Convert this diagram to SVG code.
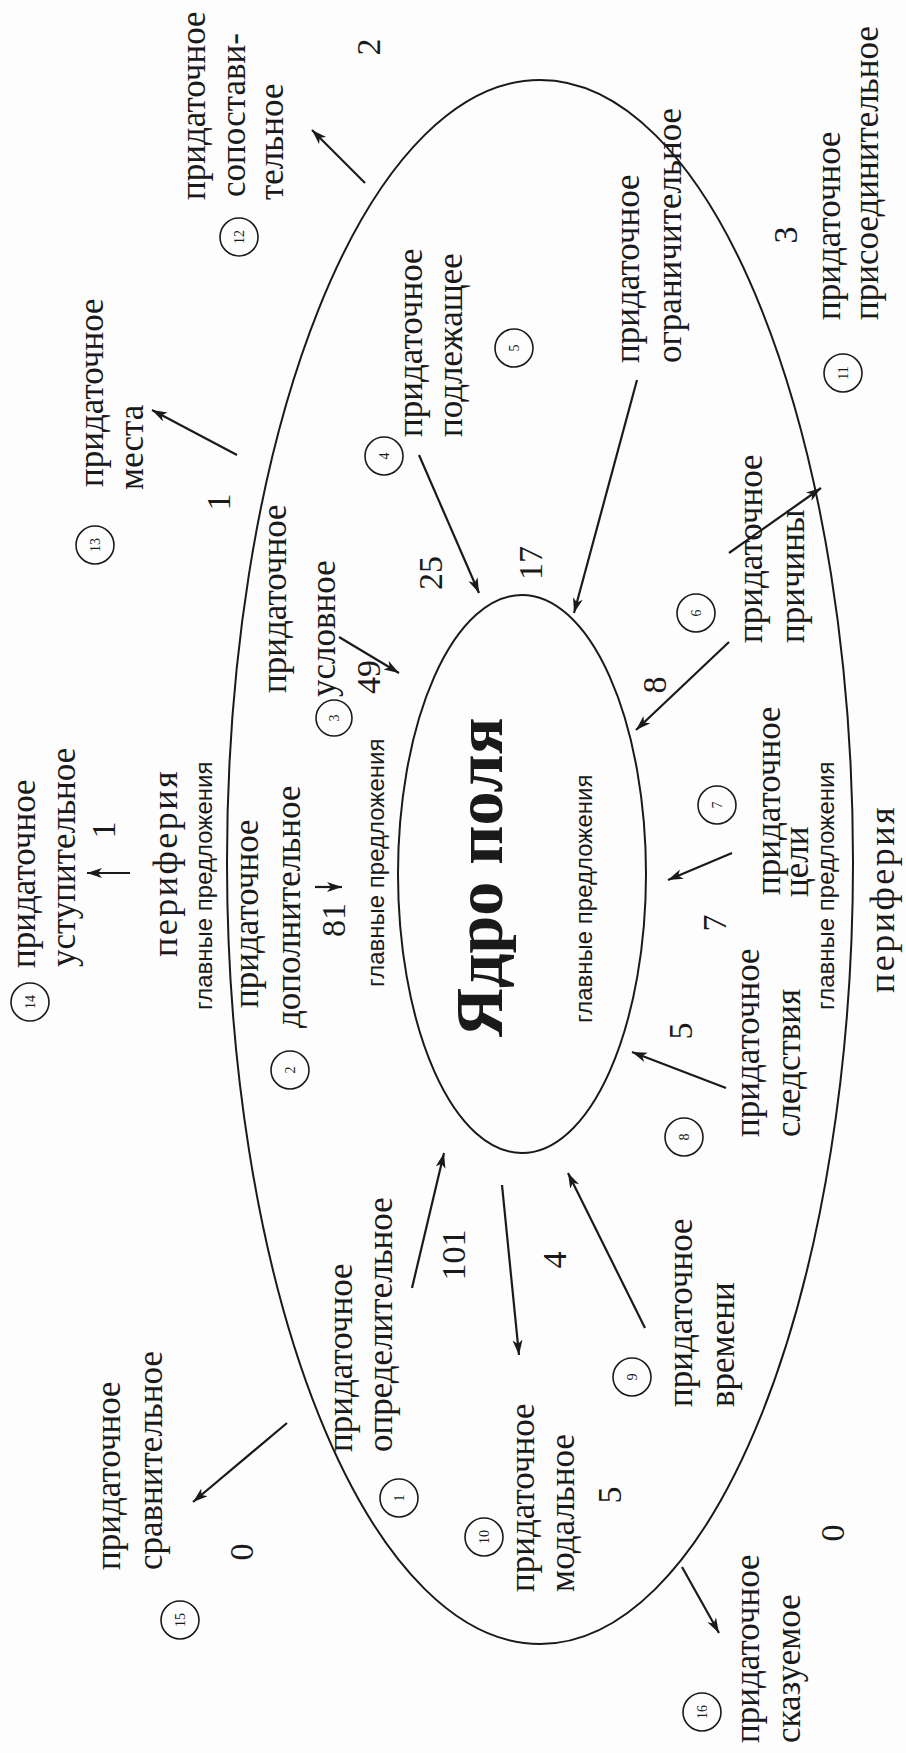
<svg xmlns="http://www.w3.org/2000/svg" width="906" height="1753" viewBox="0 0 906 1753">
<style>
text{fill:#1a1a1a}
.l{font-family:"Liberation Serif","Times New Roman",serif;font-size:35px}
.n{font-family:"Liberation Serif","Times New Roman",serif;font-size:34px;text-anchor:middle}
.c{font-family:"Liberation Serif","Times New Roman",serif;font-size:14px;text-anchor:middle}
.g{font-family:"Liberation Sans",Arial,sans-serif;font-size:24px}
.p{font-family:"Liberation Serif","Times New Roman",serif;font-size:36px;letter-spacing:2.5px}
.core{font-family:"Liberation Serif","Times New Roman",serif;font-size:68px;font-weight:bold}
.el{fill:none;stroke:#1a1a1a;stroke-width:2}
.ci{fill:none;stroke:#1a1a1a;stroke-width:1.6}
.ar{stroke:#1a1a1a;stroke-width:2.2;fill:none;marker-end:url(#ah)}
</style>
<defs>
<marker id="ah" markerUnits="userSpaceOnUse" markerWidth="16" markerHeight="12" refX="15" refY="5" orient="auto">
<path d="M0,0 L15,5 L0,10 L4,5 Z" fill="#1a1a1a"/>
</marker>
</defs>
<rect width="906" height="1753" fill="#fdfdfd"/>
<g id="periphery">
<ellipse class="el" cx="540" cy="862" rx="313" ry="782"/>
<text class="p" transform="translate(177 957) rotate(-90)">периферия</text>
<text class="g" transform="translate(212 1010) rotate(-90)">главные предложения</text>
<text class="p" transform="translate(894 993) rotate(-90)">периферия</text>
<text class="g" transform="translate(834 1010) rotate(-90)">главные предложения</text>
</g>
<g id="core">
<ellipse class="el" cx="522" cy="874" rx="124" ry="279"/>
<text class="core" transform="translate(502 1037) rotate(-90)">Ядро поля</text>
<text class="g" transform="translate(592 1023) rotate(-90)">главные предложения</text>
</g>
<g id="connectors">
<line class="ar" x1="365" y1="183" x2="312" y2="130"/>
<line class="ar" x1="237" y1="455" x2="152" y2="410"/>
<line class="ar" x1="130" y1="873" x2="87" y2="873"/>
<line class="ar" x1="315" y1="887" x2="342" y2="887"/>
<line class="ar" x1="339" y1="637" x2="399" y2="673"/>
<line class="ar" x1="419" y1="455" x2="479" y2="593"/>
<line class="ar" x1="637" y1="380" x2="574" y2="613"/>
<line class="ar" x1="729" y1="553" x2="821" y2="488"/>
<line class="ar" x1="729" y1="642" x2="636" y2="730"/>
<line class="ar" x1="732" y1="853" x2="668" y2="880"/>
<line class="ar" x1="726" y1="1088" x2="632" y2="1052"/>
<line class="ar" x1="645" y1="1328" x2="568" y2="1173"/>
<line class="ar" x1="502" y1="1185" x2="519" y2="1355"/>
<line class="ar" x1="412" y1="1288" x2="444" y2="1153"/>
<line class="ar" x1="287" y1="1423" x2="193" y2="1502"/>
<line class="ar" x1="682" y1="1567" x2="719" y2="1633"/>
</g>
<g id="n12">
<text class="l" transform="translate(205 200) rotate(-90)">придаточное</text>
<text class="l" transform="translate(245 197) rotate(-90)">сопостави-</text>
<text class="l" transform="translate(283 200) rotate(-90)">тельное</text>
<circle class="ci" cx="239" cy="237" r="19"/>
<text class="c" transform="translate(244 237) rotate(-90)">12</text>
<text class="n" transform="translate(380 47) rotate(-90)">2</text>
</g>
<g id="n13">
<text class="l" transform="translate(103 487) rotate(-90)">придаточное</text>
<text class="l" transform="translate(143 490) rotate(-90)">места</text>
<circle class="ci" cx="95" cy="545" r="19"/>
<text class="c" transform="translate(100 545) rotate(-90)">13</text>
<text class="n" transform="translate(230 502) rotate(-90)">1</text>
</g>
<g id="n14">
<circle class="ci" cx="30" cy="1002" r="19"/>
<text class="c" transform="translate(35 1002) rotate(-90)">14</text>
<text class="l" transform="translate(35 968) rotate(-90)">придаточное</text>
<text class="l" transform="translate(75 967) rotate(-90)">уступительное</text>
<text class="n" transform="translate(115 830) rotate(-90)">1</text>
</g>
<g id="n2">
<text class="l" transform="translate(258 1008) rotate(-90)">придаточное</text>
<text class="l" transform="translate(300 1028) rotate(-90)">дополнительное</text>
<circle class="ci" cx="290" cy="1070" r="19"/>
<text class="c" transform="translate(295 1070) rotate(-90)">2</text>
<text class="n" transform="translate(345 920) rotate(-90)">81</text>
<text class="g" transform="translate(384 987) rotate(-90)">главные предложения</text>
</g>
<g id="n3">
<text class="l" transform="translate(286 693) rotate(-90)">придаточное</text>
<text class="l" transform="translate(335 697) rotate(-90)">условное</text>
<circle class="ci" cx="334" cy="718" r="18"/>
<text class="c" transform="translate(339 718) rotate(-90)">3</text>
<text class="n" transform="translate(380 677) rotate(-90)">49</text>
</g>
<g id="n4">
<circle class="ci" cx="384" cy="456" r="19"/>
<text class="c" transform="translate(389 456) rotate(-90)">4</text>
<text class="l" transform="translate(422 437) rotate(-90)">придаточное</text>
<text class="l" transform="translate(462 437) rotate(-90)">подлежащее</text>
<text class="n" transform="translate(442 573) rotate(-90)">25</text>
</g>
<g id="n5">
<circle class="ci" cx="514" cy="348" r="19"/>
<text class="c" transform="translate(519 348) rotate(-90)">5</text>
<text class="l" transform="translate(639 363) rotate(-90)">придаточное</text>
<text class="l" transform="translate(681 363) rotate(-90)">ограничительное</text>
<text class="n" transform="translate(542 563) rotate(-90)">17</text>
</g>
<g id="n11">
<text class="n" transform="translate(797 235) rotate(-90)">3</text>
<text class="l" transform="translate(840 320) rotate(-90)">придаточное</text>
<text class="l" transform="translate(878 320) rotate(-90)">присоединительное</text>
<circle class="ci" cx="843" cy="373" r="19"/>
<text class="c" transform="translate(848 373) rotate(-90)">11</text>
</g>
<g id="n6">
<text class="l" transform="translate(762 643) rotate(-90)">придаточное</text>
<text class="l" transform="translate(804 643) rotate(-90)">причины</text>
<circle class="ci" cx="696" cy="613" r="19"/>
<text class="c" transform="translate(701 613) rotate(-90)">6</text>
<text class="n" transform="translate(666 685) rotate(-90)">8</text>
</g>
<g id="n7">
<circle class="ci" cx="717" cy="805" r="19"/>
<text class="c" transform="translate(722 805) rotate(-90)">7</text>
<text class="l" transform="translate(780 895) rotate(-90)">придаточное</text>
<text class="l" transform="translate(808 897) rotate(-90)">цели</text>
<text class="n" transform="translate(726 923) rotate(-90)">7</text>
</g>
<g id="n8">
<circle class="ci" cx="684" cy="1137" r="19"/>
<text class="c" transform="translate(689 1137) rotate(-90)">8</text>
<text class="l" transform="translate(759 1137) rotate(-90)">придаточное</text>
<text class="l" transform="translate(800 1137) rotate(-90)">следствия</text>
<text class="n" transform="translate(692 1031) rotate(-90)">5</text>
</g>
<g id="n1">
<text class="l" transform="translate(352 1452) rotate(-90)">придаточное</text>
<text class="l" transform="translate(392 1452) rotate(-90)">определительное</text>
<circle class="ci" cx="399" cy="1498" r="19"/>
<text class="c" transform="translate(404 1498) rotate(-90)">1</text>
<text class="n" transform="translate(465 1255) rotate(-90)">101</text>
</g>
<g id="n10">
<circle class="ci" cx="484" cy="1537" r="19"/>
<text class="c" transform="translate(489 1537) rotate(-90)">10</text>
<text class="l" transform="translate(534 1592) rotate(-90)">придаточное</text>
<text class="l" transform="translate(574 1592) rotate(-90)">модальное</text>
<text class="n" transform="translate(621 1495) rotate(-90)">5</text>
<text class="n" transform="translate(566 1260) rotate(-90)">4</text>
</g>
<g id="n9">
<circle class="ci" cx="632" cy="1377" r="19"/>
<text class="c" transform="translate(637 1377) rotate(-90)">9</text>
<text class="l" transform="translate(692 1407) rotate(-90)">придаточное</text>
<text class="l" transform="translate(734 1407) rotate(-90)">времени</text>
</g>
<g id="n15">
<text class="l" transform="translate(120 1570) rotate(-90)">придаточное</text>
<text class="l" transform="translate(162 1570) rotate(-90)">сравнительное</text>
<circle class="ci" cx="180" cy="1620" r="19"/>
<text class="c" transform="translate(185 1620) rotate(-90)">15</text>
<text class="n" transform="translate(253 1552) rotate(-90)">0</text>
</g>
<g id="n16">
<circle class="ci" cx="702" cy="1712" r="19"/>
<text class="c" transform="translate(707 1712) rotate(-90)">16</text>
<text class="l" transform="translate(759 1743) rotate(-90)">придаточное</text>
<text class="l" transform="translate(800 1743) rotate(-90)">сказуемое</text>
<text class="n" transform="translate(844 1533) rotate(-90)">0</text>
</g>
</svg>
